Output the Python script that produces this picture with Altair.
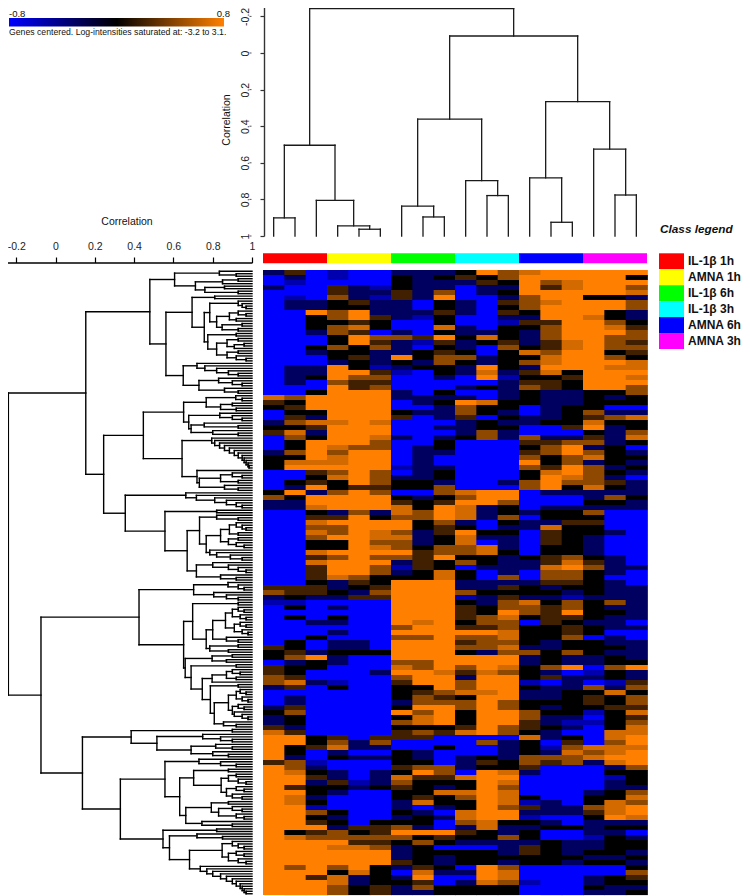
import altair as alt
import pandas as pd

# ---------- values ----------
CLASSES = ["IL-1β 1h", "AMNA 1h", "IL-1β 6h", "IL-1β 3h", "AMNA 6h", "AMNA 3h"]
CLASS_COLORS = ["#FF0000", "#FFFF00", "#00FF00", "#00FFFF", "#0000FF", "#FF00FF"]
TICKS = [-0.2, 0, 0.2, 0.4, 0.6, 0.8, 1]
LEVELS = {"B": -0.8, "U": -0.55, "N": -0.3, "K": 0.0, "D": 0.2, "M": 0.45, "T": 0.66, "O": 0.8}

HEAT_ROWS = [
"NDBUBBNNNKOMTOOOOO","BNBUBBKNKDKMOOOOOK","BUBBBBKNNNDKOMTOOO","NBBDNUKNNBNNODTOOM","BBBDNNDNMBNKOOOOOT",
"BUBMNUDNOBBNMOOKKN","BNNKDNNBKNBDMTOOOM","BNNKKNNBKNBKMOOOOM","BBOMONNNDNBDKOOOKN","BBKMODNUKBBNNOOTKN",
"BBKKDKBBKBBUDDOOMK","BBKMTKBBTNBKKMOOTD","BBNMDBNBKNNKNMOOOM","BBBKOMMDOKTKNMOOMM","BBBKODNUDNKDNDTOMD",
"BBKMKMNBKNBMKDTOMM","BBNKKNNKDKBKTMOOKD","BBBKDNOKMMNKKTOOMK","BBBNKNKNMKNKMTOOOT","BNNOKUNKKNOKNOOOTT",
"BNNOODUBKNTNDTKOOO","BNKOMMBBNBOUKKDOOT","BNBMDDBBBBBNDDKOOO","BBBODMBBBNKNMDKOOM","BBKOOONBKBBNKNNKKM",
"TMOOOONNNNBNKNNKNK","DKOOOOBNKOTKKNNKKK","KDOOOOBBNMKKBNKKBB","BKKOOOKNNMKNBNKMNN","BDNOOODBNDBKNNKDMT",
"NMTTOTBBBNKNNKKTKK","KKDOOOBBNNKKBBDONK","DTNOOOBBBNMNBBBKNM","BMKOOTNBNKMNMNNDNT","BKOOOMBBKBBBDDMMNK",
"BKOTMMBNKBBBKMONKB","NMOMOOBNNBBBDMOMKN","KKOTOOBNBBBBMKMTKK","KTTTOOBNBBBBOKMNKN","KOOOOOUNNBBBMDOMNK",
"BBDMOMBNKBBBKTOMKN","BBKTOMNNKBBBKOTMNB","BKDKOMKKNBBNMOMMDN","BNOKDDKKMBBBMOKTKN","KONMOMBBMTOOBNNNNN",
"MKOOOOKNKMOOBBBNMK","NNOOOODKDOOMBBBKKN","NNTOOOTKOTNKBNNNNN","BBKNMNTMOTNKNKKMBB","BBDDOKMMOTNMBKKKBB",
"BBTOOOOKMNBKNNDDBB","BBMMOOOKDKBNNTKKBB","BBTMOTMNDOKKBDKKNB","BBMOOTTNKTNNBDKNBB","BBKKOMMNKTBNBDKNBB",
"BBKKOTMKMMTNBKKNBB","BBTOOOODMMTKBKKNBB","BBDMOMMDOKKNKDMKNB","BBTOOONDKMKNNDTDNB","BBDOOMUDKBNNNTOMNN",
"BBDOOMNKTKBNBMMKNB","BBDTMKKKTKBMBMMKBB","BBKNDKOOONNNNDDKNB","DDDNKDOOONNDKNKKNN","MDDKNMOOOMKKKKNKNN",
"NKNNDDOOOUNDNNUNNN","UUBBBBOOOKNMTKMKMN","BKBNBBOOODKMMDMKNN","BBBBBBOOODKOMDOKKN","BKBKBBOOODMTKDDKNN",
"BBNNBBOTOKMMBDKNNB","BBBBBBMOODDMKKDKNN","BBBNBBOOOOOTKKDKBB","BBKBBBMMOMMTKKMBNB","BKBNNBOOODMMKNKKNN",
"DKBNNBOOOMMTNNKKKN","KDNKKKOOOKNMMKMKNN","KMONBBOOOOOONKNNKN","BNKNBBMMOOOONKNNKK","DKKBBBTMOMOTKMOBMO",
"DKBBBNOOTDTMKNBUKN","MDBBBBMOONOOKDNNKN",
"MTNUBBDOOMOOUBNBUD","NDBKBBKKOMOOKNNMNM","BBBBBBKDMTTONNKKTK","BNBBBBKMDKOONNKDKM","BNBBBBNMMMOMKKKDKM",
"NDBBBBKOOMOMKNKKDD","KMBBBBOMOKOOMKKUKT","NKBBBBKTOKOOMNNBKD","NKBBBBMTOKOODNUUKM","DNBBBBKKKDOMDKNBKT",
"TDBBBBDMDTOMKNBBTT","OOKDBDDDBBBBTNKBTO","OOKMNMBBBBMNKBDBMO","OKDTNNBBKBBNKUMTTT","OKBNBBKNBBBNKNTMTO",
"ONBKNNKNBNKNMMMTOO","DMUBBBKKBNDKMDMNTO","OMNBBBDMMNKKDBBBNM","OTKNBNKOMBOTNBBBKK","OODNBNTDDTOOBBBBUK",
"OONDUNMKKKOTBBBBNK","ODKKNKDKNKOMBBBBNN","OOKNBBKKTTOTBBBNKM","OTNBBBKDKMOTKBBKKT","OTKBBBNTKKOTUNBKTM",
"OOUBBBNBNKOMDNNMTO","OOMKBBKNBTOONNNDTO","OOKNBBNKNTOOUBBKOT","OODKBKKKBMTKKNBNNN","OOONDDMNBNTNNKKNKK",
"OKDMKDOOODKNKBBNNB","OTMMMMMKDKKMKBBUKN","OOOODDKMKNNNNKNNKK","OOOTTMNKBBBNDKNNKK","OOOOOONKKKKNDKNKKN",
"OOOOOONKNKKKKKKNNK","OOOOOODKNKKNKKNKKN","OMOMOKNDKBOMBBBBBK","OOOKTKBTNNOTBBBBBM","OODTNKNOBBOTBBBNKD",
"OOOTNKKDBNTMUBBNKK","OOOMKDNMKKKKBBBKNN","OOOMKDNNKKKKBBBNNK",
]

L = None  # a leaf


def c(*hs):
    node = (hs[-1], L, L)
    for h in reversed(hs[:-1]):
        node = (h, L, node)
    return node


# sample tree (merge heights in correlation)
TOP_TREE = (-0.243,
    (0.504, (0.901, L, L),
            (0.805, L, (0.945, L, (0.963, L, L)))),
    (-0.093,
        (0.361,
            (0.837, L, (0.896, L, L)),
            (0.697, L, (0.779, L, L))),
        (0.266,
            (0.682, L, (0.925, L, L)),
            (0.525, L, (0.776, L, L)))))

# gene tree (merge heights in correlation)
_a = (.606, (.834, L, (.92, L, L)),
      (.712, (.85, (.93, L, L), L), (.76, (.86, L, L), (.93, L, L))))
_b1 = (.695, (.81, L, L),
       (.757,
        (.785, c(.93, .95, .97),
         (.82, (.885, (.93, L, (.97, L, L)), (.92, L, L)), (.848, (.95, L, L), (.93, L, L)))),
        (.775, (.92, L, L),
         (.82, (.873, (.93, L, L), (.91, (.96, L, L), L)), (.873, (.93, L, L), (.92, L, (.97, L, L)))))))
_b2 = (.65, (.72, L, c(.76, .82, .88, .93)), (.73, c(.83, .9, .95), c(.86, .93)))
_A1 = (.48, _a, (.562, _b1, _b2))
_p = (.652,
      (.767, (.917, L, (.95, L, L)), (.84, (.9, L, L), (.92, L, L))),
      (.678, (.836, L, c(.9, .95)), (.69, (.757, L, (.93, L, L)), (.8, L, (.93, L, L)))))
_q = (.644,
      c(.795, .81, .835, .86, .885, .91, .93, .95, .96, .97, .98, .985),
      (.72, L, (.732, (.84, c(.9, .95), (.93, L, L)), c(.86, .93))))
_r = c(.663, .717, .81, .87, .92, .95)
_s = (.557, (.82, L, L),
      (.67,
       (.733, (.82, L, (.93, L, L)),
        (.767,
         (.84, (.885, c(.92, .95, .97), (.93, L, L)), (.88, (.93, L, L), c(.92, .96))),
         (.785, L, (.82, L, c(.89, .95))))),
       (.717, c(.8, .88, .93, .97), (.84, L, (.92, L, L)))))
_A = (.154, _A1, (.245, (.447, _p, _q), (.355, _r, _s)))
_c1 = (.703, (.878, L, c(.93, .96)), c(.805, .87, .93))
_c21 = (.698, (.93, L, L),
        (.767,
         (.8,
          (.865, (.9, c(.93, .96), c(.94, .97)), (.91, c(.94, .97), c(.95, .98))),
          c(.87, .93)),
         (.785, (.93, L, L), (.88, L, L))))
_c22 = (.66, (.797, (.9, L, L), (.87, L, L)),
        (.69, (.92, L, L),
         (.747,
          (.797, (.87, c(.9, .94), (.92, L, L)), L),
          (.788, (.93, L, L),
           (.808,
            (.88, (.92, c(.94, .97), c(.95, .98)), (.9, c(.93, .96), c(.91, .95, .98))),
            c(.855, .92))))))
_B1 = (.425, _c1, (.652, _c21, _c22))
_d = (.385, (.9, L, L), (.516, c(.749, .84, .9), (.69, c(.815, .9), c(.8, .88))))
_e1 = (.557, (.73, L, c(.84, .92)),
       (.632,
        (.703, (.88, L, L),
         (.843, (.88, (.92, L, L), c(.93, .97)), (.87, c(.92, .96), c(.9, .95)))),
        (.663, (.793, (.88, L, L), (.83, c(.9, .95), c(.92, .96))), c(.745, .9))))
_e2 = (.547, (.82, L, L),
       (.58, c(.72, .85),
        (.682,
         (.848, c(.9, .93, .96), (.88, c(.92, .96), c(.93, .97))),
         c(.737, .77, .8, .84, .87, .9, .92, .94, .95, .96, .97))))
_B = (-.074, _B1, (.137, _d, (.33, _e1, _e2)))
LEFT_TREE = (-.24, _A, _B)


# ---------- build tables ----------
def segments(tree):
    segs, leaf = [], [0]

    def walk(node):
        if node is None:
            leaf[0] += 1
            return leaf[0] - 0.5, 1.0
        h, a, b = node
        pa, ha = walk(a)
        pb, hb = walk(b)
        segs.append(dict(h=h, h2=h, p=pa, p2=pb))
        segs.append(dict(h=h, h2=ha, p=pa, p2=pa))
        segs.append(dict(h=h, h2=hb, p=pb, p2=pb))
        return (pa + pb) / 2, h

    walk(tree)
    return pd.DataFrame(segs), leaf[0]


top_df, n_top = segments(TOP_TREE)
left_df, n_left = segments(LEFT_TREE)

rows = []
for i, row in enumerate(HEAT_ROWS):
    assert len(row) == 18, (i, row)
    for j, ch in enumerate(row):
        rows.append(dict(c=j, c2=j + 1.04, r=i, r2=i + 1.02, v=LEVELS[ch]))
heat_df = pd.DataFrame(rows)
class_df = pd.DataFrame({"name": CLASSES, "s": [i * 3 for i in range(6)], "e": [i * 3 + 3 for i in range(6)]})
leg_df = pd.DataFrame({"name": CLASSES, "i": list(range(6)), "i2": [i + 1 for i in range(6)], "m": [i + 0.5 for i in range(6)]})
tick_df = pd.DataFrame({"t": TICKS})

# ---------- pixel frame: reference px minus the page margin ----------
M = 8
W, H = 734, 888
no = None
color_cls = alt.Scale(domain=CLASSES, range=CLASS_COLORS)
x_cols = alt.Scale(domain=[0, 18], range=[263 - M, 647 - M], nice=False, zero=False)
LABEL = "datum.value < 0 ? '-' + format(-datum.value, '.1~f') : format(datum.value, '.1~f')"
FONT = "Liberation Sans"

heat = alt.Chart(heat_df).mark_rect().encode(
    x=alt.X("c:Q", scale=x_cols, axis=no),
    x2="c2:Q",
    y=alt.Y("r:Q", scale=alt.Scale(domain=[0, len(HEAT_ROWS)], range=[270 - M, 895 - M], nice=False, zero=False), axis=no),
    y2="r2:Q",
    color=alt.Color("v:Q", legend=no,
                    scale=alt.Scale(domain=[-0.8, 0, 0.8], range=["#0000FF", "#000000", "#FF8000"], interpolate="rgb")),
)

class_bar = alt.Chart(class_df).mark_rect().encode(
    x=alt.X("s:Q", scale=x_cols, axis=no),
    x2="e:Q",
    y=alt.value(253.3 - M),
    y2=alt.value(263.3 - M),
    color=alt.Color("name:N", scale=color_cls, legend=no),
)

top_y = alt.Scale(domain=[-0.25, 1], range=[7.25 - M, 236 - M], nice=False, zero=False)
top_tree = alt.Chart(top_df).mark_rule(stroke="#1a1a1a", strokeWidth=1.3, strokeCap="square").encode(
    x=alt.X("p:Q", scale=alt.Scale(domain=[0, n_top], range=[263 - M, 647 - M], nice=False, zero=False), axis=no),
    x2="p2:Q",
    y=alt.Y("h:Q", scale=top_y, axis=alt.Axis(
        orient="left", offset=-(264 - M), values=TICKS, labelExpr=LABEL, labelAngle=270,
        labelAlign="center", labelBaseline="bottom", labelPadding=10, labelFont=FONT, labelFontSize=10.5,
        labelColor="#222", tickColor="#333", domainColor="#333", tickSize=4, tickWidth=1.2, domainWidth=1.4,
        grid=False, title=no, labelOverlap=False)),
    y2="h2:Q",
)
top_dash = alt.Chart(tick_df).mark_rule(stroke="#555", strokeWidth=1).encode(
    y=alt.Y("t:Q", scale=top_y, axis=no),
    x=alt.value(249.5 - M),
    x2=alt.value(251.5 - M),
)

left_x = alt.Scale(domain=[-0.25, 1], range=[6.4 - M, 252 - M], nice=False, zero=False)
left_tree = alt.Chart(left_df).mark_rule(stroke="#000000", strokeWidth=1.4, strokeCap="square").encode(
    x=alt.X("h:Q", scale=left_x, axis=alt.Axis(
        orient="top", offset=-(262.5 - M), values=TICKS, labelExpr=LABEL, labelFont=FONT, labelFontSize=10.5,
        labelColor="#222", tickColor="#000", domainColor="#000", tickSize=5.5, tickWidth=1.2, domainWidth=1.3,
        labelPadding=6, grid=False, title=no, labelOverlap=False, labelFlush=False)),
    x2="h2:Q",
    y=alt.Y("p:Q", scale=alt.Scale(domain=[0, n_left], range=[270 - M, 895 - M], nice=False, zero=False), axis=no),
    y2="p2:Q",
)

colorbar = alt.Chart(pd.DataFrame({"a": [0]})).mark_rect(
    color=alt.Gradient(gradient="linear", x1=0, x2=1, y1=0, y2=0,
                       stops=[alt.GradientStop(color="#0000FF", offset=0),
                              alt.GradientStop(color="#000000", offset=0.5),
                              alt.GradientStop(color="#FF8000", offset=1)])
).encode(x=alt.value(9 - M), x2=alt.value(224 - M), y=alt.value(18 - M), y2=alt.value(26.5 - M))


def txt(s, x, y, size, align="left", baseline="middle", angle=None, weight="normal", style="normal", color="#111"):
    kw = dict(align=align, baseline=baseline, font=FONT, fontSize=size, fontWeight=weight, fontStyle=style, color=color)
    if angle is not None:
        kw["angle"] = angle
    return alt.Chart(pd.DataFrame({"t": [s]})).mark_text(**kw).encode(
        x=alt.value(x - M), y=alt.value(y - M), text="t:N")


leg_y = alt.Scale(domain=[0, 6], range=[253.3 - M, 349 - M], nice=False, zero=False)
leg_sw = alt.Chart(leg_df).mark_rect().encode(
    x=alt.value(659 - M), x2=alt.value(684 - M),
    y=alt.Y("i:Q", scale=leg_y, axis=no), y2="i2:Q",
    color=alt.Color("name:N", scale=color_cls, legend=no),
)
leg_tx = alt.Chart(leg_df).mark_text(align="left", baseline="middle", font=FONT, fontSize=12, fontWeight="bold", color="#111").encode(
    x=alt.value(688 - M),
    y=alt.Y("m:Q", scale=leg_y, axis=no),
    text="name:N",
)

chart = alt.layer(
    heat, class_bar, top_tree, top_dash, left_tree, colorbar,
    txt("-0.8", 9, 14, 9.5),
    txt("0.8", 230, 14, 9.5, align="right"),
    txt("Genes centered. Log-intensities saturated at: -3.2 to 3.1.", 9, 31.5, 8.7),
    txt("Correlation", 227, 120, 10.5, align="center", angle=270),
    txt("Correlation", 127, 222, 10.5, align="center"),
    txt("Class legend", 660, 229, 11.8, weight="bold", style="italic"),
    leg_sw, leg_tx,
).resolve_scale(x="independent", y="independent", color="independent").resolve_axis(x="independent", y="independent").properties(
    width=W, height=H, padding=0, autosize=alt.AutoSizeParams(type="none"), background="white",
).configure_view(stroke=None)

chart.save("out.html", embed_options={"renderer": "svg", "actions": False})
